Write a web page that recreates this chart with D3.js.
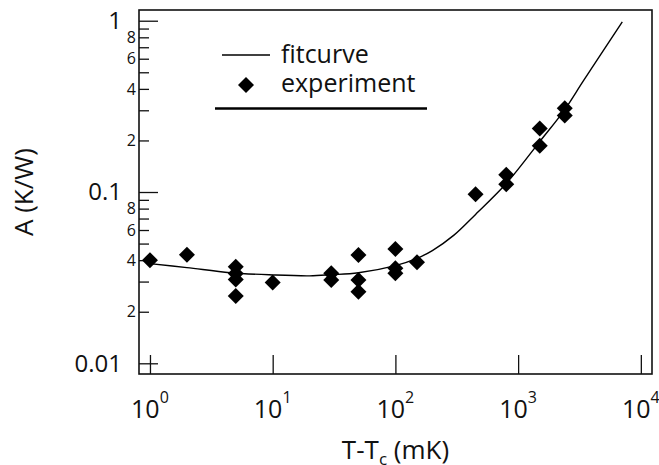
<!DOCTYPE html>
<html>
<head>
<meta charset="utf-8">
<script src="https://cdn.jsdelivr.net/npm/d3@7"></script>
<style>
  body { margin: 0; background: #fff; }
  svg text { font-family: "Open Sans", "Noto Sans", sans-serif; fill: #111; }
</style>
</head>
<body>
<script>
// measured points (T-Tc in mK, A in K/W)
const expX = [1, 2, 5, 5, 5, 5, 10, 30, 30, 50, 50, 50, 100, 100, 100, 150, 450, 800, 800, 1500, 1500, 2400, 2400];
const expY = [0.040, 0.043, 0.0366, 0.0334, 0.0308, 0.0247, 0.0296, 0.0335, 0.0306, 0.0429, 0.0306, 0.0262,
              0.0465, 0.0359, 0.0335, 0.0389, 0.097, 0.126, 0.111, 0.235, 0.186, 0.308, 0.280];

// fit curve
const fitX = [1, 2, 4.5, 10, 20, 30, 50, 100, 150, 200, 300, 450, 800, 1500, 2400, 3400, 7060];
const fitY = [0.0382, 0.0362, 0.0338, 0.0328, 0.0324, 0.0329, 0.0338, 0.0372, 0.0410, 0.0455, 0.0560,
              0.0740, 0.112, 0.197, 0.303, 0.445, 0.986];

const xTicks = [1, 10, 100, 1000, 10000];
const xTickExp = ["0", "1", "2", "3", "4"];
const yMajor = [0.01, 0.1, 1];
const yMajorLabels = ["0.01", "0.1", "1"];
const yMinor = [0.02, 0.03, 0.04, 0.05, 0.06, 0.07, 0.08, 0.09, 0.2, 0.3, 0.4, 0.5, 0.6, 0.7, 0.8, 0.9];
const yMinorLabeled = [0.02, 0.04, 0.06, 0.08, 0.2, 0.4, 0.6, 0.8];
const yMinorLabels = ["2", "4", "6", "8", "2", "4", "6", "8"];

var width = 659, height = 465;
var plot = {left: 139, right: 652, top: 10, bottom: 374};

var svg = d3.select("body").append("svg")
    .attr("width", width)
    .attr("height", height);

var x = d3.scaleLog().domain([0.814, 12330]).range([plot.left, plot.right]);
var y = d3.scaleLog().domain([0.00866, 1.155]).range([plot.bottom, plot.top]);

// ticks (inside the frame)
var gx = svg.append("g")
    .attr("transform", "translate(0," + plot.bottom + ")")
    .call(d3.axisBottom(x).tickValues(xTicks).tickSize(-19).tickFormat(""));
gx.select(".domain").remove();

var gyMinor = svg.append("g")
    .attr("transform", "translate(" + plot.left + ",0)")
    .call(d3.axisLeft(y).tickValues(yMinor).tickSize(-10).tickFormat(""));
gyMinor.select(".domain").remove();

var gyMajor = svg.append("g")
    .attr("transform", "translate(" + plot.left + ",0)")
    .call(d3.axisLeft(y).tickValues(yMajor).tickSize(-19).tickFormat(""));
gyMajor.select(".domain").remove();

svg.selectAll(".tick line").attr("stroke", "#111").attr("stroke-width", 1.3);

// frame
svg.append("rect")
    .attr("x", plot.left).attr("y", plot.top)
    .attr("width", plot.right - plot.left).attr("height", plot.bottom - plot.top)
    .attr("fill", "none").attr("stroke", "#111").attr("stroke-width", 1.6);

// x tick labels 10^n
var xl = svg.selectAll(".xlab").data(xTicks).enter().append("text")
    .attr("class", "xlab")
    .attr("x", d => x(d))
    .attr("y", 418)
    .attr("text-anchor", "middle")
    .style("font-size", "25px");
xl.append("tspan").text("10");
xl.append("tspan").attr("dy", -15).style("font-size", "16px").text((d, i) => xTickExp[i]);

// y labels
svg.selectAll(".ymaj").data(yMajor).enter().append("text")
    .attr("x", 122)
    .attr("y", d => y(d))
    .attr("dy", "0.35em")
    .attr("text-anchor", "end")
    .style("font-size", "24px")
    .text((d, i) => yMajorLabels[i]);

svg.selectAll(".ymin").data(yMinorLabeled).enter().append("text")
    .attr("x", 136)
    .attr("y", d => y(d))
    .attr("dy", "0.36em")
    .attr("text-anchor", "end")
    .style("font-size", "16px")
    .text((d, i) => yMinorLabels[i]);

// axis titles
var xt = svg.append("text")
    .attr("x", (plot.left + plot.right) / 2)
    .attr("y", 459)
    .attr("text-anchor", "middle")
    .style("font-size", "26px");
xt.append("tspan").text("T-T");
xt.append("tspan").attr("dy", 6).style("font-size", "17px").text("c");
xt.append("tspan").attr("dy", -6).text(" (mK)");

svg.append("text")
    .attr("transform", "translate(33," + ((plot.top + plot.bottom) / 2) + ") rotate(-90)")
    .attr("text-anchor", "middle")
    .style("font-size", "26px")
    .text("A (K/W)");

// fit curve
var fitData = fitX.map((v, i) => [v, fitY[i]]);
var line = d3.line()
    .x(d => x(d[0]))
    .y(d => y(d[1]))
    .curve(d3.curveCatmullRom);

svg.append("path")
    .datum(fitData)
    .attr("d", line)
    .attr("fill", "none")
    .attr("stroke", "#000")
    .attr("stroke-width", 1.4);

// experiment points (diamonds)
var diamond = d3.symbol().type(d3.symbolSquare).size(128);
svg.selectAll(".pt").data(expX).enter().append("path")
    .attr("class", "pt")
    .attr("d", diamond)
    .attr("transform", (d, i) => "translate(" + x(d) + "," + y(expY[i]) + ") rotate(45)")
    .attr("fill", "#000");

// legend
var leg = svg.append("g");
leg.append("line")
    .attr("x1", 222).attr("x2", 270).attr("y1", 55).attr("y2", 55)
    .attr("stroke", "#000").attr("stroke-width", 1.4);
leg.append("text").attr("x", 281).attr("y", 63).style("font-size", "25px").text("fitcurve");
leg.append("path")
    .attr("d", diamond)
    .attr("transform", "translate(246,85) rotate(45)")
    .attr("fill", "#000");
leg.append("text").attr("x", 281).attr("y", 92).style("font-size", "25px").text("experiment");
leg.append("line")
    .attr("x1", 215).attr("x2", 427).attr("y1", 108.5).attr("y2", 108.5)
    .attr("stroke", "#000").attr("stroke-width", 2.6);
</script>
</body>
</html>
